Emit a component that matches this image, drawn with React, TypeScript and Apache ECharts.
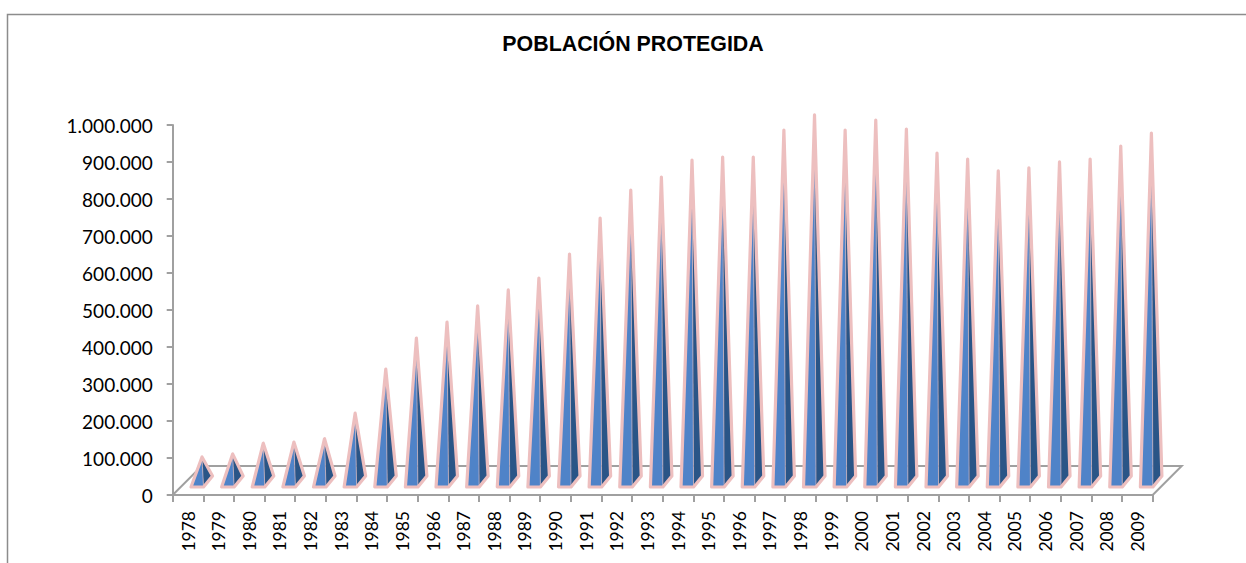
import React, { useEffect, useRef } from "react";
import * as echarts from "echarts";

const years = ["1978","1979","1980","1981","1982","1983","1984","1985","1986","1987","1988","1989","1990","1991","1992","1993","1994","1995","1996","1997","1998","1999","2000","2001","2002","2003","2004","2005","2006","2007","2008","2009"];
const poblacion = [67600,76000,105000,108000,117000,186000,305000,389000,432000,476000,519000,551000,616000,713000,789000,824000,870000,878000,878000,951000,992000,951000,978000,954000,889000,873000,841000,849000,865000,873000,908000,943000];
const titleText = "POBLACIÓN PROTEGIDA";

const PINK = "#EDBFBF";
const GREY = "#A0A0A0";
const fmt = (v: number) => String(v).replace(/\B(?=(\d{3})+(?!\d))/g, ".");

export default function App() {
  const ref = useRef<HTMLDivElement>(null);
  useEffect(() => {
    document.body.style.margin = "0";
    const chart = echarts.init(ref.current!, null, { renderer: "svg" });
    chart.setOption({
      animation: false,
      backgroundColor: "#fff",
      title: {
        text: titleText, left: 628, top: 28, textAlign: "center",
        textStyle: { fontFamily: "Liberation Sans", fontWeight: "bold", fontSize: 21.4, color: "#000" },
      },
      grid: { left: 172.7, right: 93.3, top: 125, bottom: 68, containLabel: false },
      xAxis: {
        type: "category", data: years, boundaryGap: true,
        axisLine: { lineStyle: { color: GREY, width: 2 } },
        axisTick: { show: true, length: 7, alignWithLabel: false, lineStyle: { color: GREY, width: 2 } },
        axisLabel: { rotate: 90, interval: 0, fontFamily: "Lato", fontSize: 17.5, color: "#000", margin: 16 },
      },
      yAxis: {
        type: "value", min: 0, max: 1000000, interval: 100000,
        axisLine: { show: true, lineStyle: { color: GREY, width: 2 } },
        axisTick: { show: true, length: 6, lineStyle: { color: GREY, width: 2 } },
        axisLabel: { formatter: fmt, fontFamily: "Lato", fontSize: 19, color: "#000", margin: 20 },
        splitLine: { show: false },
      },
      graphic: [
        { type: "polyline", silent: true, shape: { points: [[7.5, 563], [7.5, 14.5], [1246, 14.5]] }, style: { fill: "none", stroke: "#8C8C8C", lineWidth: 1.5 } },
      ],
      series: [
        {
          type: "custom", coordinateSystem: "cartesian2d", clip: false, z: 1,
          data: [[0, 0]],
          renderItem: (_p: any, api: any) => {
            const c0 = api.coord([0, 0]);
            const c1 = api.coord([years.length - 1, 0]);
            const bw = (c1[0] - c0[0]) / (years.length - 1);
            const x0 = c0[0] - bw / 2;
            const x1 = c1[0] + bw / 2;
            const y0 = c0[1];
            const d = 29;
            return {
              type: "group",
              children: [
                { type: "polyline", shape: { points: [[x0, y0], [x0 + d, y0 - d], [x1 + d, y0 - d], [x1, y0]] }, style: { fill: "none", stroke: GREY, lineWidth: 2 } },
              ],
            };
          },
        },
        {
          type: "custom", coordinateSystem: "cartesian2d", clip: false, z: 2,
          data: poblacion.map((v, i) => [i, v]),
          encode: { x: 0, y: 1 },
          renderItem: (_p: any, api: any) => {
            const i = api.value(0);
            const v = api.value(1);
            const base = api.coord([i, 0]);
            const top = api.coord([i, v]);
            const cx = base[0];
            const fy = base[1] - 8;
            const by = base[1] - 19;
            const ax = cx + 14;
            const ay = top[1] - 13;
            const fl = cx + 3;
            const fr = cx + 15.5;
            const br = cx + 24.5;
            return {
              type: "group",
              children: [
                { type: "polygon", shape: { points: [[fl, fy], [fr, fy], [ax, ay]] }, style: { fill: "#4F83C8" } },
                { type: "polygon", shape: { points: [[fr, fy], [br, by], [ax, ay]] }, style: { fill: "#2A5587" } },
                { type: "line", shape: { x1: fr, y1: fy, x2: ax, y2: ay }, style: { stroke: PINK, lineWidth: 0.6 } },
                { type: "polygon", shape: { points: [[fl, fy], [fr, fy], [br, by], [ax, ay]] }, style: { fill: "none", stroke: PINK, lineWidth: 3.2, lineJoin: "round" } },
              ],
            };
          },
        },
      ],
    });
    return () => chart.dispose();
  }, []);
  return <div ref={ref} style={{ width: 1246, height: 563 }} />;
}
